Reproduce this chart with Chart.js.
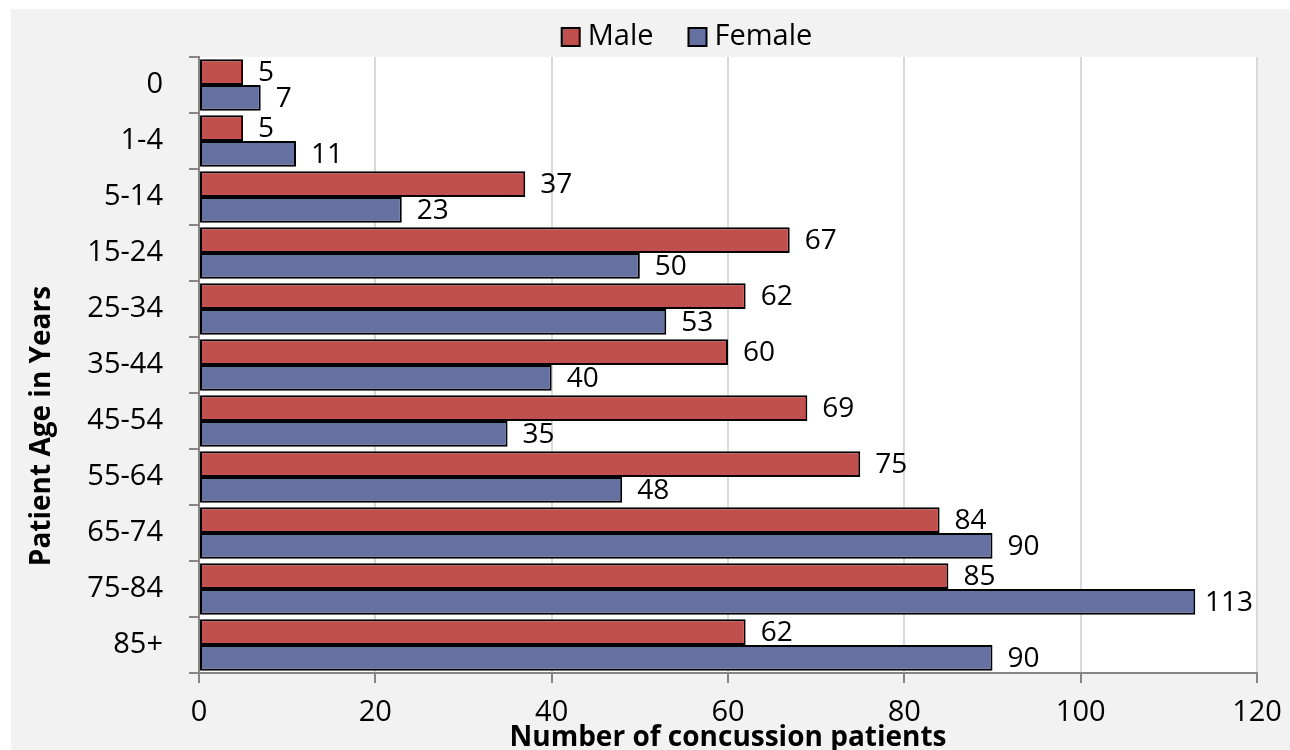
<!DOCTYPE html>
<html>
<head>
<meta charset="utf-8">
<script src="https://cdn.jsdelivr.net/npm/chart.js@4.4.1/dist/chart.umd.min.js"></script>
<style>
  html, body { margin: 0; padding: 0; background: #ffffff; }
  #wrap { position: absolute; left: 11px; top: 9px; width: 1279px; height: 741px; background: #f2f2f2; }
  canvas { display: block; }
</style>
</head>
<body>
<div id="wrap"><canvas id="c" width="1279" height="741"></canvas></div>
<script>
// Concussion patients by age group and sex
const ageGroups = ['0', '1-4', '5-14', '15-24', '25-34', '35-44', '45-54', '55-64', '65-74', '75-84', '85+'];
const maleCounts = [5, 5, 37, 67, 62, 60, 69, 75, 84, 85, 62];
const femaleCounts = [7, 11, 23, 50, 53, 40, 35, 48, 90, 113, 90];
const xTickValues = [0, 20, 40, 60, 80, 100, 120];
const seriesNames = ['Male', 'Female'];
const xTitle = 'Number of concussion patients';
const yTitle = 'Patient Age in Years';

const FONT = "'Open Sans', 'Noto Sans', sans-serif";
const TEXT_SIZE = 29;
const VALUE_SIZE = 28;
const TITLE_SIZE = 28;

// white plotting area behind the grid
const plotBackground = {
  id: 'plotBackground',
  beforeDraw(chart) {
    const { ctx, chartArea: a } = chart;
    ctx.save();
    ctx.fillStyle = '#ffffff';
    ctx.fillRect(a.left, a.top, a.right - a.left, a.bottom - a.top);
    ctx.restore();
  }
};

// value printed just past the end of each bar
const valueLabels = {
  id: 'valueLabels',
  afterDatasetsDraw(chart) {
    const { ctx, chartArea: a } = chart;
    ctx.save();
    ctx.font = `${VALUE_SIZE}px ${FONT}`;
    ctx.fillStyle = '#000000';
    ctx.textAlign = 'left';
    ctx.textBaseline = 'middle';
    chart.data.datasets.forEach((ds, di) => {
      const meta = chart.getDatasetMeta(di);
      meta.data.forEach((bar, i) => {
        const txt = String(ds.data[i]);
        const w = ctx.measureText(txt).width;
        const x = Math.min(bar.x + 15, a.right - w - 4);
        ctx.fillText(txt, x, bar.y + 1);
      });
    });
    ctx.restore();
  }
};

// legend and axis titles
const decorations = {
  id: 'decorations',
  afterDraw(chart) {
    const { ctx, chartArea: a } = chart;
    ctx.save();
    // legend
    ctx.font = `${TEXT_SIZE}px ${FONT}`;
    ctx.textBaseline = 'middle';
    ctx.textAlign = 'left';
    const box = 18, gapText = 8, gapItem = 35;
    const items = chart.data.datasets.map(ds => ({
      text: ds.label, color: ds.backgroundColor, w: box + gapText + ctx.measureText(ds.label).width
    }));
    const total = items.reduce((s, it) => s + it.w, 0) + gapItem * (items.length - 1);
    let x = 676 - total / 2;
    const cy = 28;
    items.forEach(it => {
      ctx.fillStyle = it.color;
      ctx.fillRect(x, cy - box / 2, box, box);
      ctx.strokeStyle = '#000000';
      ctx.lineWidth = 2;
      ctx.strokeRect(x, cy - box / 2, box, box);
      ctx.fillStyle = '#000000';
      ctx.fillText(it.text, x + box + gapText, cy);
      x += it.w + gapItem;
    });
    // x axis title
    ctx.font = `bold ${TITLE_SIZE}px ${FONT}`;
    ctx.textAlign = 'center';
    ctx.fillText(xTitle, (a.left + a.right) / 2, 729);
    // y axis title
    ctx.translate(31, 417);
    ctx.rotate(-Math.PI / 2);
    ctx.fillText(yTitle, 0, 0);
    ctx.restore();
  }
};

function build() {
  new Chart(document.getElementById('c'), {
    type: 'bar',
    data: {
      labels: ageGroups,
      datasets: [
        { label: seriesNames[0], data: maleCounts, backgroundColor: '#c0504d', borderColor: '#000000', borderWidth: 2, borderSkipped: false },
        { label: seriesNames[1], data: femaleCounts, backgroundColor: '#6571a0', borderColor: '#000000', borderWidth: 2, borderSkipped: false }
      ]
    },
    options: {
      indexAxis: 'y',
      responsive: false,
      animation: false,
      devicePixelRatio: 1,
      datasets: { bar: { categoryPercentage: 0.92, barPercentage: 1.0 } },
      layout: { padding: { left: 0, right: 33, top: 48, bottom: 0 } },
      plugins: { legend: { display: false }, tooltip: { enabled: false } },
      scales: {
        x: {
          type: 'linear',
          min: 0,
          max: 120,
          afterBuildTicks: s => { s.ticks = xTickValues.map(v => ({ value: v })); },
          afterFit: s => { s.height = 77; s.paddingLeft = 0; s.paddingRight = 0; },
          grid: { color: '#d9d9d9', lineWidth: 2, tickColor: '#868686', tickLength: 10 },
          border: { color: '#868686', width: 2 },
          ticks: { font: { family: FONT, size: TEXT_SIZE }, color: '#000000', padding: 12, maxRotation: 0 }
        },
        y: {
          type: 'category',
          afterFit: s => { s.width = 188; s.paddingTop = 0; s.paddingBottom = 0; },
          grid: { offset: true, drawOnChartArea: false, color: '#868686', lineWidth: 2, tickLength: 10 },
          border: { color: '#868686', width: 2 },
          ticks: { font: { family: FONT, size: TEXT_SIZE }, color: '#000000', padding: 26 }
        }
      }
    },
    plugins: [plotBackground, valueLabels, decorations]
  });
}

if (document.fonts && document.fonts.load) {
  Promise.all([
    document.fonts.load(`${TEXT_SIZE}px "Open Sans"`),
    document.fonts.load(`bold ${TITLE_SIZE}px "Open Sans"`)
  ]).then(build, build);
} else {
  build();
}
</script>
</body>
</html>
